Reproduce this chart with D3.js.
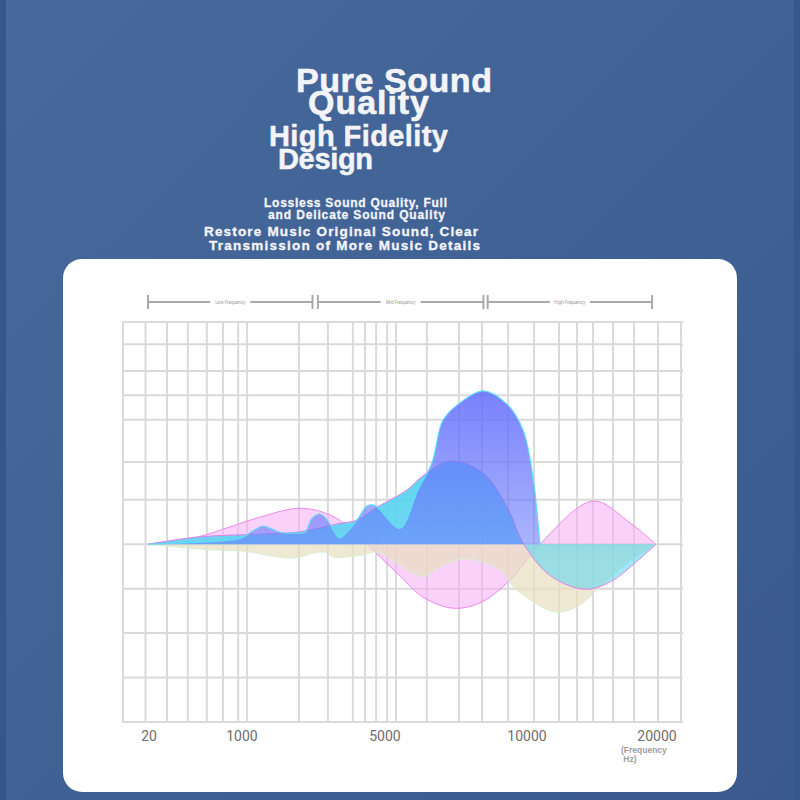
<!DOCTYPE html>
<html>
<head>
<meta charset="utf-8">
<script src="https://cdn.jsdelivr.net/npm/d3@7"></script>
<style>
  html, body { margin: 0; padding: 0; background: #43669a; }
  svg { display: block; }
</style>
</head>
<body>
<svg id="chart"></svg>
<script>
// frequency axis
const freqTicks = [20, 1000, 5000, 10000, 20000];
const gridFreqs = [18, 220, 440, 640, 810, 970, 1170, 2620, 3430, 4130, 4470, 4780, 5110, 5420,
    6510, 7640, 8450, 9370, 10620, 12540, 13920, 15150, 16690, 18310, 20160];
const gridLevels = [-4, -3, -2, -1, 0, 1, 1.85, 2.8, 3.35, 3.9, 4.5, 5];

// frequency bands (top bracket)
const bandNames = ["Low Frequency", "Mid Frequency", "High Frequency"];
const bandStart = [20, 3150, 8650];
const bandEnd = [3000, 8500, 19700];

// response curves
const pinkFreqs = [20, 536, 884, 1615, 2650, 3489, 4049, 4524, 5458, 6373, 7430, 8380, 9436, 11077, 15154, 18000, 20000];
const pinkValues = [0, 0.16, 0.39, 0.63, 0.81, 0.66, 0.36, 0, -0.65, -1.19, -1.44, -1.32, -0.81, 0, 0.97, 0.48, 0];

const beigeFreqs = [20, 220, 705, 1000, 2287, 2650, 3126, 3433, 3573, 4412, 4804, 5563, 6373, 6972, 7782, 8486,
    9190, 9436, 10308, 12385, 14154, 15692, 17615, 20000];
const beigeValues = [0, -0.04, -0.13, -0.15, -0.31, -0.29, -0.18, -0.2, -0.29, -0.24, -0.18, -0.47, -0.72, -0.51,
    -0.33, -0.4, -0.62, -0.87, -1.25, -1.53, -1.37, -0.95, -0.45, 0];

const cyanFreqs = [20, 536, 1615, 2566, 3769, 4244, 4804, 5810, 6300, 7324, 8486, 9331, 9894, 11615, 13385,
    14923, 16692, 18000, 20000];
const cyanValues = [0, 0.16, 0.23, 0.27, 0.47, 0.54, 0.83, 1.22, 1.5, 1.87, 1.6, 0.84, 0.03, -0.65, -0.94,
    -1.01, -0.81, -0.52, 0];

const violetFreqs = [20, 884, 1056, 1392, 1615, 1839, 2090, 2566, 2790, 2986, 3210, 3405, 3629, 3769, 4244,
    4524, 4720, 4888, 5563, 6197, 6690, 7077, 7676, 8486, 9331, 9894, 10538, 10923, 11077];
const violetValues = [0, 0.09, 0.16, 0.33, 0.41, 0.35, 0.27, 0.25, 0.27, 0.58, 0.68, 0.55, 0.25, 0.14, 0.54,
    0.86, 0.88, 0.77, 0.36, 1.22, 1.83, 2.79, 3.18, 3.45, 3.15, 2.57, 1.51, 0.48, 0];

// heading texts
const titleLines = ["Pure Sound", "Quality"];
const subtitleLines = ["High Fidelity", "Design"];
const noteLines = ["Lossless Sound Quality, Full", "and Delicate Sound Quality"];
const detailLines = ["Restore Music Original Sound, Clear", "Transmission of More Music Details"];
const axisUnit = ["(Frequency", " Hz)"];

const width = 800;
const height = 800;
const plot = { left: 123, top: 322, width: 558, height: 400 };

const svg = d3.select("#chart")
    .attr("width", width)
    .attr("height", height);

const defs = svg.append("defs");

function drawBackground() {
    const bg = defs.append("linearGradient")
        .attr("id", "bgGrad")
        .attr("x1", 0).attr("y1", 0).attr("x2", 1).attr("y2", 1);
    bg.append("stop").attr("offset", 0).attr("stop-color", "#47699c");
    bg.append("stop").attr("offset", 1).attr("stop-color", "#3a5a8d");

    svg.append("rect")
        .attr("width", width)
        .attr("height", height)
        .attr("fill", "url(#bgGrad)");

    svg.append("rect")
        .attr("width", 6)
        .attr("height", height)
        .attr("fill", "#34568a");

    svg.append("rect")
        .attr("x", width - 6)
        .attr("width", 6)
        .attr("height", height)
        .attr("fill", "#36578a");

    svg.append("rect")
        .attr("x", 63)
        .attr("y", 259)
        .attr("width", 674)
        .attr("height", 533)
        .attr("rx", 19)
        .attr("fill", "#ffffff");
}

function drawHeadings() {
    const g = svg.append("g")
        .style("font-family", "'Liberation Sans', Arial, sans-serif")
        .style("font-weight", "bold")
        .attr("fill", "#f3f4f8")
        .attr("stroke", "#f3f4f8")
        .attr("stroke-linejoin", "round");

    const titleX = [296, 308];
    const titleY = [92, 114];
    g.selectAll(".title")
        .data(titleLines)
        .enter()
        .append("text")
        .attr("class", "title")
        .attr("x", (d, i) => titleX[i])
        .attr("y", (d, i) => titleY[i])
        .attr("textLength", (d, i) => [196, 121][i])
        .attr("stroke-width", 0.6)
        .style("font-size", "34px")
        .text(d => d);

    const subX = [269, 278];
    const subY = [146, 168.5];
    g.selectAll(".subtitle")
        .data(subtitleLines)
        .enter()
        .append("text")
        .attr("class", "subtitle")
        .attr("x", (d, i) => subX[i])
        .attr("y", (d, i) => subY[i])
        .attr("textLength", (d, i) => [179, 95][i])
        .attr("stroke-width", 0.5)
        .style("font-size", "29px")
        .text(d => d);

    const noteX = [264, 268];
    const noteY = [207, 218.5];
    const noteLen = [183, 177];
    g.selectAll(".note")
        .data(noteLines)
        .enter()
        .append("text")
        .attr("class", "note")
        .attr("x", (d, i) => noteX[i])
        .attr("y", (d, i) => noteY[i])
        .attr("textLength", (d, i) => noteLen[i])
        .attr("stroke-width", 0.3)
        .style("font-size", "12px")
        .text(d => d);

    const detailX = [204, 209];
    const detailY = [236, 249.5];
    const detailLen = [274, 271];
    g.selectAll(".detail")
        .data(detailLines)
        .enter()
        .append("text")
        .attr("class", "detail")
        .attr("x", (d, i) => detailX[i])
        .attr("y", (d, i) => detailY[i])
        .attr("textLength", (d, i) => detailLen[i])
        .attr("stroke-width", 0.35)
        .style("font-size", "13.5px")
        .text(d => d);
}

drawBackground();
drawHeadings();

const chart = svg.append("g")
    .attr("transform", `translate(${plot.left}, ${plot.top})`);

// piecewise frequency scale, stretched like the original artwork
const x = d3.scaleLinear()
    .domain([0, 20, 1000, 5000, 10000, 20000, 22000])
    .range([0, 25, 118, 261, 403, 533, plot.width]);

const y = d3.scaleLinear()
    .domain([-4, 5])
    .range([plot.height, 0]);

function drawGrid() {
    const gridColor = "#dadada";

    chart.selectAll(".hgrid")
        .data(gridLevels)
        .enter()
        .append("line")
        .attr("class", "hgrid")
        .attr("x1", 0)
        .attr("x2", plot.width + 2)
        .attr("y1", d => y(d))
        .attr("y2", d => y(d))
        .attr("stroke", gridColor)
        .attr("stroke-width", 2);

    chart.selectAll(".vgrid")
        .data(gridFreqs)
        .enter()
        .append("line")
        .attr("class", "vgrid")
        .attr("x1", d => x(d))
        .attr("x2", d => x(d))
        .attr("y1", 0)
        .attr("y2", plot.height)
        .attr("stroke", gridColor)
        .attr("stroke-width", 2);

    chart.append("rect")
        .attr("x", 0)
        .attr("y", 0)
        .attr("width", plot.width)
        .attr("height", plot.height)
        .attr("fill", "none")
        .attr("stroke", gridColor)
        .attr("stroke-width", 2);
}

function drawBands() {
    const bandY = -20;
    const capH = 7;
    const gap = 20;
    const lineColor = "#a9a9a9";

    const bands = chart.selectAll(".band")
        .data(bandNames)
        .enter()
        .append("g")
        .attr("class", "band");

    bands.append("line")
        .attr("x1", (d, i) => x(bandStart[i]))
        .attr("x2", (d, i) => (x(bandStart[i]) + x(bandEnd[i])) / 2 - gap)
        .attr("y1", bandY)
        .attr("y2", bandY)
        .attr("stroke", lineColor)
        .attr("stroke-width", 2);

    bands.append("line")
        .attr("x1", (d, i) => (x(bandStart[i]) + x(bandEnd[i])) / 2 + gap)
        .attr("x2", (d, i) => x(bandEnd[i]))
        .attr("y1", bandY)
        .attr("y2", bandY)
        .attr("stroke", lineColor)
        .attr("stroke-width", 2);

    bands.append("line")
        .attr("x1", (d, i) => x(bandStart[i]))
        .attr("x2", (d, i) => x(bandStart[i]))
        .attr("y1", bandY - capH)
        .attr("y2", bandY + capH)
        .attr("stroke", lineColor)
        .attr("stroke-width", 2);

    bands.append("line")
        .attr("x1", (d, i) => x(bandEnd[i]))
        .attr("x2", (d, i) => x(bandEnd[i]))
        .attr("y1", bandY - capH)
        .attr("y2", bandY + capH)
        .attr("stroke", lineColor)
        .attr("stroke-width", 2);

    bands.append("text")
        .attr("x", (d, i) => (x(bandStart[i]) + x(bandEnd[i])) / 2)
        .attr("y", bandY + 1.5)
        .attr("text-anchor", "middle")
        .style("font-family", "Roboto, sans-serif")
        .style("font-size", "4.5px")
        .attr("fill", "#9a9a9a")
        .text(d => d);
}

function makeGradients() {
    const base = y(0);

    const cyan = defs.append("linearGradient")
        .attr("id", "cyanGrad")
        .attr("gradientUnits", "userSpaceOnUse")
        .attr("x1", 0).attr("x2", 0)
        .attr("y1", y(1.9)).attr("y2", y(-1.1));
    const split = (base - y(1.9)) / (y(-1.1) - y(1.9));
    cyan.append("stop").attr("offset", 0).attr("stop-color", "#58d2f0").attr("stop-opacity", 0.95);
    cyan.append("stop").attr("offset", split).attr("stop-color", "#5ad3f0").attr("stop-opacity", 0.88);
    cyan.append("stop").attr("offset", split + 0.005).attr("stop-color", "#5dd4ee").attr("stop-opacity", 0.6);
    cyan.append("stop").attr("offset", 1).attr("stop-color", "#66d6ec").attr("stop-opacity", 0.6);

    const violet = defs.append("linearGradient")
        .attr("id", "violetGrad")
        .attr("gradientUnits", "userSpaceOnUse")
        .attr("x1", 0).attr("x2", 0)
        .attr("y1", y(3.45)).attr("y2", base);
    violet.append("stop").attr("offset", 0).attr("stop-color", "#6670fb").attr("stop-opacity", 0.88);
    violet.append("stop").attr("offset", 1).attr("stop-color", "#6b7dfc").attr("stop-opacity", 0.58);
}

function drawSeries(freqs, values, fill, fillOpacity, stroke, strokeWidth) {
    const pts = freqs.map((f, i) => [f, values[i]]);
    const curve = d3.curveCatmullRom.alpha(0.5);

    const area = d3.area()
        .x(d => x(d[0]))
        .y0(y(0))
        .y1(d => y(d[1]))
        .curve(curve);

    const line = d3.line()
        .x(d => x(d[0]))
        .y(d => y(d[1]))
        .curve(curve);

    chart.append("path")
        .datum(pts)
        .attr("d", area)
        .attr("fill", fill)
        .attr("fill-opacity", fillOpacity);

    chart.append("path")
        .datum(pts)
        .attr("d", line)
        .attr("fill", "none")
        .attr("stroke", stroke)
        .attr("stroke-width", strokeWidth);
}

function drawAxisLabels() {
    chart.selectAll(".tick-label")
        .data(freqTicks)
        .enter()
        .append("text")
        .attr("class", "tick-label")
        .attr("x", d => x(d) + 1)
        .attr("y", plot.height + 19)
        .attr("text-anchor", "middle")
        .style("font-family", "Roboto, sans-serif")
        .style("font-size", "14px")
        .attr("fill", "#6e6e6e")
        .text(d => d);

    chart.selectAll(".unit")
        .data(axisUnit)
        .enter()
        .append("text")
        .attr("class", "unit")
        .attr("x", 498)
        .attr("y", (d, i) => plot.height + 31 + i * 9)
        .style("font-family", "'Liberation Sans', Arial, sans-serif")
        .style("font-weight", "bold")
        .style("font-size", "8.5px")
        .attr("fill", "#a0a0a0")
        .attr("xml:space", "preserve")
        .text(d => d);
}

drawGrid();
drawBands();
makeGradients();

drawSeries(pinkFreqs, pinkValues, "#f4acf4", 0.55, "#ec88ec", 1);
drawSeries(beigeFreqs, beigeValues, "#e8dfc0", 0.7, "#dcefd3", 1);
drawSeries(cyanFreqs, cyanValues, "url(#cyanGrad)", 1, "#e67fe8", 1);
drawSeries(violetFreqs, violetValues, "url(#violetGrad)", 1, "#5fdcf4", 1.2);

drawAxisLabels();
</script>
</body>
</html>
